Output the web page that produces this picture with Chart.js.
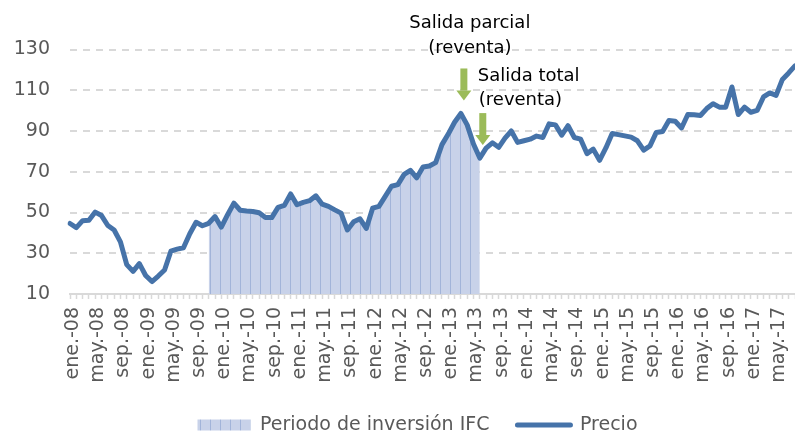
<!DOCTYPE html>
<html>
<head>
<meta charset="utf-8">
<script src="https://cdn.jsdelivr.net/npm/chart.js@4.4.1/dist/chart.umd.min.js"></script>
<style>
  html, body { margin: 0; padding: 0; background: #fff; }
  canvas { display: block; }
</style>
</head>
<body>
<canvas id="chart" width="795" height="434"></canvas>
<script>
const meses = ['ene', 'feb', 'mar', 'abr', 'may', 'jun', 'jul', 'ago', 'sep', 'oct', 'nov', 'dic'];
const anios = ['08', '09', '10', '11', '12', '13', '14', '15', '16', '17'];

// Precio mensual, ene.-08 a ago.-17
const precio = [
  44.6, 42.6, 46.0, 46.2, 50.2, 48.5, 43.6, 41.4, 35.6, 24.4, 21.1, 24.9,
  19.1, 16.1, 18.8, 21.8, 31.0, 32.0, 32.7, 39.6, 45.2, 43.5, 44.7, 48.0,
  42.8, 48.9, 54.6, 51.1, 50.7, 50.5, 49.9, 47.6, 47.5, 52.5, 53.5, 59.1,
  53.8, 55.0, 55.8, 58.2, 54.1, 53.0, 51.3, 49.7, 41.4, 45.5, 46.9, 42.2,
  52.1, 53.0, 57.9, 62.9, 63.7, 68.7, 70.7, 67.0, 72.3, 72.8, 74.5, 83.3,
  88.5, 94.3, 98.6, 93.0, 83.6, 76.7, 81.6, 84.2, 82.0, 86.5, 90.0, 84.4,
  85.2, 86.0, 87.5, 86.8, 93.5, 93.0, 88.0, 92.6, 86.8, 86.0, 78.9, 81.1,
  75.6, 81.7, 88.8, 88.2, 87.6, 87.0, 85.2, 80.6, 82.7, 89.3, 89.8, 95.1,
  94.8, 91.5, 98.1, 98.0, 97.6, 101.0, 103.4, 101.7, 101.7, 111.6, 98.1, 101.7,
  99.2, 100.1, 106.7, 108.7, 107.5, 115.3, 118.5, 122.0
];

const etiquetas = anios.flatMap(a => meses.map(m => `${m}.-${a}`)).slice(0, precio.length);

// Periodo de inversion IFC (indices del primer y ultimo mes)
const periodoInicio = 22;
const periodoFin = 65;
const periodo = precio.map((v, i) => (i >= periodoInicio && i <= periodoFin ? v : null));

// Salidas (indice del mes, texto)
const salidas = [
  { idx: 62, lineas: ['Salida parcial', '(reventa)'], align: 'center' },
  { idx: 65, lineas: ['Salida total', '(reventa)'], align: 'left' },
];

const AZUL = '#4673A9';
const VERDE = '#9BBB59';
const GRIS = '#595959';
const REJILLA = '#D9D9D9';

function crearTrama() {
  const c = document.createElement('canvas');
  c.width = 10;
  c.height = 4;
  const g = c.getContext('2d');
  g.fillStyle = '#C8D2E9';
  g.fillRect(0, 0, 10, 4);
  g.fillStyle = '#A2B4D9';
  g.fillRect(0, 0, 1, 4);
  return g.createPattern(c, 'repeat');
}
const trama = crearTrama();

const salidasPlugin = {
  id: 'salidas',
  afterLayout(chart) {
    // la leyenda del original queda algo a la izquierda del centro
    chart.legend.left -= 15;
    chart.legend.right -= 15;
  },
  afterDatasetsDraw(chart) {
    const { ctx, scales: { x, y } } = chart;
    ctx.save();
    ctx.font = '18px "DejaVu Sans"';
    ctx.textBaseline = 'middle';
    for (const s of salidas) {
      const cx = x.getPixelForValue(s.idx) + 3;
      const tip = y.getPixelForValue(precio[s.idx]) - 13;
      const base = tip - 10;
      const top = tip - 32;
      ctx.fillStyle = VERDE;
      ctx.fillRect(cx - 3.5, top, 7, base - top);
      ctx.beginPath();
      ctx.moveTo(cx - 7.5, base);
      ctx.lineTo(cx + 7.5, base);
      ctx.lineTo(cx, tip);
      ctx.closePath();
      ctx.fill();

      ctx.fillStyle = '#000';
      if (s.align === 'center') {
        ctx.textAlign = 'center';
        ctx.fillText(s.lineas[0], cx + 6, top - 45);
        ctx.fillText(s.lineas[1], cx + 6, top - 20);
      } else {
        ctx.textAlign = 'left';
        ctx.fillText(s.lineas[0], cx - 5, top - 37);
        ctx.fillText(s.lineas[1], cx - 4, top - 13);
      }
    }
    ctx.restore();
  }
};

Chart.defaults.font.family = '"DejaVu Sans", sans-serif';
Chart.defaults.color = GRIS;

new Chart(document.getElementById('chart'), {
  type: 'line',
  data: {
    labels: etiquetas,
    datasets: [
      {
        label: 'Precio',
        data: precio,
        borderColor: AZUL,
        borderWidth: 5,
        borderJoinStyle: 'round',
        borderCapStyle: 'round',
        pointRadius: 0,
        tension: 0,
        fill: false,
      },
      {
        label: 'Periodo de inversión IFC',
        data: periodo,
        borderWidth: 0,
        pointRadius: 0,
        backgroundColor: trama,
        fill: 'start',
        spanGaps: false,
      },
    ],
  },
  options: {
    responsive: false,
    animation: false,
    layout: { padding: { top: 49.5, left: 0, right: 0, bottom: -10.5 } },
    plugins: {
      tooltip: { enabled: false },
      legend: {
        position: 'bottom',
        fullSize: false,
        labels: {
          usePointStyle: true,
          pointStyleWidth: 53,
          boxHeight: 11,
          padding: 28,
          color: GRIS,
          font: { size: 19 },
          generateLabels: () => [
            { text: 'Periodo de inversión IFC', fillStyle: trama, strokeStyle: 'rgba(0,0,0,0)', lineWidth: 0, pointStyle: 'rect', hidden: false, datasetIndex: 1, fontColor: GRIS },
            { text: 'Precio', fillStyle: AZUL, strokeStyle: AZUL, lineWidth: 5, lineCap: 'round', pointStyle: 'line', hidden: false, datasetIndex: 0, fontColor: GRIS },
          ],
        },
      },
    },
    scales: {
      x: {
        offset: false,
        grid: { drawOnChartArea: false, drawTicks: true, tickLength: 5, tickColor: REJILLA, tickWidth: 1.5 },
        border: { display: true, color: REJILLA, width: 2 },
        ticks: {
          autoSkip: false,
          minRotation: 90,
          maxRotation: 90,
          padding: 8,
          labelOffset: 3,
          color: GRIS,
          font: { size: 19 },
          callback: (v, i) => (i % 4 === 0 ? etiquetas[i] : ''),
        },
        afterFit: scale => {
          scale.height = 93.5;
          scale.paddingLeft = 0;
          scale.paddingRight = 0;
        },
      },
      y: {
        min: 10,
        max: 130,
        grid: { color: REJILLA, lineWidth: 2, drawTicks: false },
        border: { display: false, dash: [7, 6] },
        ticks: { stepSize: 20, padding: 20, color: GRIS, font: { size: 19 } },
        afterFit: scale => {
          scale.width = 70;
          scale.paddingTop = 0;
          scale.paddingBottom = 0;
        },
      },
    },
  },
  plugins: [salidasPlugin],
});
</script>
</body>
</html>
